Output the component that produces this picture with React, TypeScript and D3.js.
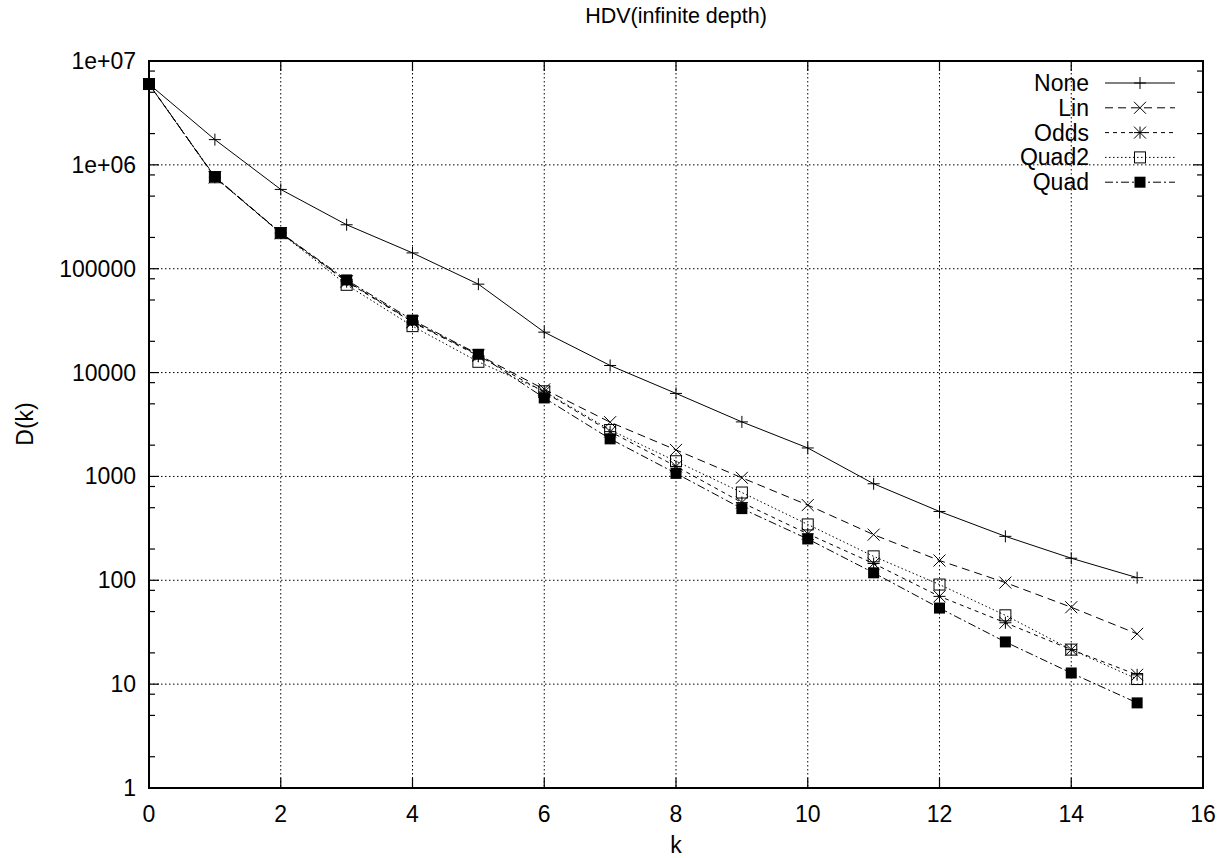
import { useEffect, useRef } from "react";
import * as d3 from "d3";

const kValues = [0, 1, 2, 3, 4, 5, 6, 7, 8, 9, 10, 11, 12, 13, 14, 15];
const noneValues = [6.0e6, 1.75e6, 5.8e5, 2.65e5, 1.42e5, 7.1e4, 2.45e4, 1.17e4, 6.3e3, 3.35e3, 1.88e3, 850, 460, 265, 163, 106];
const linValues = [6.0e6, 7.6e5, 2.2e5, 7.6e4, 3.1e4, 1.48e4, 6.9e3, 3.33e3, 1.8e3, 970, 530, 275, 155, 95, 55, 30.5];
const oddsValues = [6.0e6, 7.6e5, 2.2e5, 7.5e4, 3.05e4, 1.45e4, 6.5e3, 2.7e3, 1.25e3, 560, 280, 145, 70, 39, 21.5, 12.3];
const quad2Values = [6.0e6, 7.6e5, 2.2e5, 7.0e4, 2.8e4, 1.27e4, 6.6e3, 2.8e3, 1.4e3, 700, 345, 170, 91, 46, 21.5, 11.2];
const quadValues = [6.0e6, 7.7e5, 2.22e5, 7.8e4, 3.2e4, 1.5e4, 5.7e3, 2.3e3, 1.07e3, 490, 250, 118, 54, 25.5, 12.8, 6.6];

const xTicks = [0, 2, 4, 6, 8, 10, 12, 14, 16];
const yTicks = [1, 10, 100, 1000, 10000, 100000, 1e6, 1e7];
const yTickLabels = ["1", "10", "100", "1000", "10000", "100000", "1e+06", "1e+07"];
const minorSteps = [2, 5, 8];

const seriesNames = ["None", "Lin", "Odds", "Quad2", "Quad"];
const seriesValues = [noneValues, linValues, oddsValues, quad2Values, quadValues];
const seriesDash = ["", "8,5", "4,4", "1.5,2.5", "8,3,2,3"];
const seriesMarker = ["plus", "cross", "star", "box", "filled"];

const FONT = "'Liberation Sans', Arial, Helvetica, sans-serif";

function drawMarker(g: any, kind: string, x: number, y: number) {
  const s = 6;
  if (kind === "plus" || kind === "star") {
    g.append("path")
      .attr("d", `M${x - s},${y}H${x + s}M${x},${y - s}V${y + s}`)
      .attr("stroke", "#000").attr("stroke-width", 1).attr("fill", "none");
  }
  if (kind === "cross" || kind === "star") {
    g.append("path")
      .attr("d", `M${x - s},${y - s}L${x + s},${y + s}M${x - s},${y + s}L${x + s},${y - s}`)
      .attr("stroke", "#000").attr("stroke-width", 1).attr("fill", "none");
  }
  if (kind === "box") {
    g.append("rect")
      .attr("x", x - 5.5).attr("y", y - 5.5).attr("width", 11).attr("height", 11)
      .attr("stroke", "#000").attr("stroke-width", 1).attr("fill", "none");
  }
  if (kind === "filled") {
    g.append("rect")
      .attr("x", x - 5.5).attr("y", y - 5.5).attr("width", 11).attr("height", 11)
      .attr("fill", "#000");
  }
}

export default function App() {
  const ref = useRef<SVGSVGElement>(null);

  useEffect(() => {
    const left = 149, right = 1203, top = 61, bottom = 788;
    const svg = d3.select(ref.current);
    svg.selectAll("*").remove();

    const xScale = d3.scaleLinear().domain([0, 16]).range([left, right]);
    const yScale = d3.scaleLog().domain([1, 1e7]).range([bottom, top]);

    // grid
    const grid = svg.append("g");
    xTicks.slice(1, -1).forEach(t => {
      grid.append("line")
        .attr("x1", xScale(t)).attr("x2", xScale(t)).attr("y1", top).attr("y2", bottom)
        .attr("stroke", "#000").attr("stroke-width", 1).attr("stroke-dasharray", "1.5,2.5");
    });
    yTicks.slice(1, -1).forEach(t => {
      grid.append("line")
        .attr("x1", left).attr("x2", right).attr("y1", yScale(t)).attr("y2", yScale(t))
        .attr("stroke", "#000").attr("stroke-width", 1).attr("stroke-dasharray", "1.5,2.5");
    });

    // ticks (mirrored on all sides)
    const ticks = svg.append("g").attr("stroke", "#000").attr("stroke-width", 1.2);
    xTicks.forEach(t => {
      const x = xScale(t);
      ticks.append("line").attr("x1", x).attr("x2", x).attr("y1", bottom).attr("y2", bottom - 10);
      ticks.append("line").attr("x1", x).attr("x2", x).attr("y1", top).attr("y2", top + 10);
    });
    yTicks.forEach((t, i) => {
      const y = yScale(t);
      ticks.append("line").attr("x1", left).attr("x2", left + 10).attr("y1", y).attr("y2", y);
      ticks.append("line").attr("x1", right).attr("x2", right - 10).attr("y1", y).attr("y2", y);
      if (i < yTicks.length - 1) {
        minorSteps.forEach(m => {
          const ym = yScale(t * m);
          ticks.append("line").attr("x1", left).attr("x2", left + 6).attr("y1", ym).attr("y2", ym);
          ticks.append("line").attr("x1", right).attr("x2", right - 6).attr("y1", ym).attr("y2", ym);
        });
      }
    });

    // tick labels
    xTicks.forEach(t => {
      svg.append("text")
        .attr("x", xScale(t)).attr("y", 822)
        .attr("text-anchor", "middle")
        .style("font-family", FONT).style("font-size", "23px")
        .text(String(t));
    });
    yTicks.forEach((t, i) => {
      svg.append("text")
        .attr("x", 136).attr("y", yScale(t) + 8)
        .attr("text-anchor", "end")
        .style("font-family", FONT).style("font-size", "23px")
        .text(yTickLabels[i]);
    });

    // series
    const line = d3.line<number>()
      .x((_, i) => xScale(kValues[i]))
      .y(d => yScale(d));
    seriesValues.forEach((vals, s) => {
      const g = svg.append("g");
      g.append("path")
        .attr("d", line(vals))
        .attr("fill", "none").attr("stroke", "#000").attr("stroke-width", 1)
        .attr("stroke-dasharray", seriesDash[s] || null);
      vals.forEach((v, i) => drawMarker(g, seriesMarker[s], xScale(kValues[i]), yScale(v)));
    });

    // legend
    seriesNames.forEach((name, s) => {
      const y = 83 + s * 24.8;
      const g = svg.append("g");
      g.append("text")
        .attr("x", 1089).attr("y", y + 8)
        .attr("text-anchor", "end")
        .style("font-family", FONT).style("font-size", "23px")
        .text(name);
      g.append("line")
        .attr("x1", 1105).attr("x2", 1175).attr("y1", y).attr("y2", y)
        .attr("stroke", "#000").attr("stroke-width", 1)
        .attr("stroke-dasharray", seriesDash[s] || null);
      drawMarker(g, seriesMarker[s], 1140, y);
    });

    // frame
    svg.append("rect")
      .attr("x", left).attr("y", top).attr("width", right - left).attr("height", bottom - top)
      .attr("fill", "none").attr("stroke", "#000").attr("stroke-width", 2);

    // title and axis labels
    svg.append("text")
      .attr("x", (left + right) / 2).attr("y", 23)
      .attr("text-anchor", "middle")
      .style("font-family", FONT).style("font-size", "21.5px")
      .text("HDV(infinite depth)");
    svg.append("text")
      .attr("x", (left + right) / 2).attr("y", 853)
      .attr("text-anchor", "middle")
      .style("font-family", FONT).style("font-size", "23px")
      .text("k");
    svg.append("text")
      .attr("transform", `translate(33,424) rotate(-90)`)
      .attr("text-anchor", "middle")
      .style("font-family", FONT).style("font-size", "23px")
      .text("D(k)");
  }, []);

  return (
    <svg
      ref={ref}
      width={1220}
      height={858}
      style={{ position: "absolute", left: 0, top: 0, background: "#fff" }}
    />
  );
}
